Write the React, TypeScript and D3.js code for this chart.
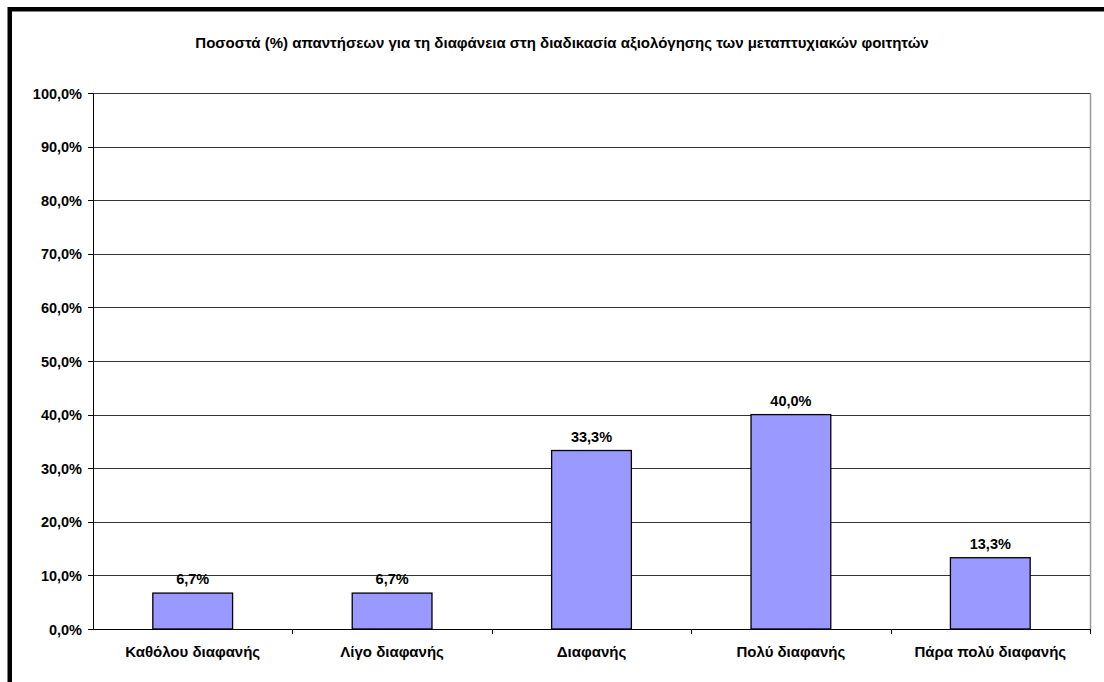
import React from "react";
import * as d3 from "d3";

const title = "Ποσοστά (%) απαντήσεων για τη διαφάνεια στη διαδικασία αξιολόγησης των μεταπτυχιακών φοιτητών";
const categories = ["Καθόλου διαφανής", "Λίγο διαφανής", "Διαφανής", "Πολύ διαφανής", "Πάρα πολύ διαφανής"];
const values = [6.7, 6.7, 33.3, 40.0, 13.3];
const yTicks = [0, 10, 20, 30, 40, 50, 60, 70, 80, 90, 100];

const fmt = (v: number) => v.toFixed(1).replace(".", ",") + "%";

export default function App() {
  const W = 1104, H = 682;
  const left = 93, right = 1090, top = 93, bottom = 629;
  const x = d3.scaleBand<string>().domain(categories).range([left, right]).paddingInner(0).paddingOuter(0);
  const y = d3.scaleLinear().domain([0, 100]).range([bottom, top]);
  const bw = x.bandwidth() * 0.4;
  const font = "'Liberation Sans', Arial, sans-serif";
  return (
    <svg width={W} height={H} style={{ position: "absolute", left: 0, top: 0, background: "#fff" }} fontFamily={font}>
      <rect x={0} y={0} width={W} height={H} fill="#fff" />
      <rect x={9.75} y={9.25} width={1200} height={800} fill="none" stroke="#000" strokeWidth={4.5} />
      <text x={562} y={48} textAnchor="middle" fontSize={15} fontWeight="bold">{title}</text>
      {/* plot area border right */}
      <line x1={right + 0.5} x2={right + 0.5} y1={top} y2={bottom} stroke="#999" strokeWidth={1.5} />
      {yTicks.map((t) => (
        <g key={t}>
          {t > 0 && <line x1={left} x2={right} y1={Math.round(y(t)) + 0.5} y2={Math.round(y(t)) + 0.5} stroke="#333" strokeWidth={1} />}
          <line x1={left - 5} x2={left} y1={Math.round(y(t)) + 0.5} y2={Math.round(y(t)) + 0.5} stroke="#000" />
          <text x={82} y={y(t) + 5.5} textAnchor="end" fontSize={14.5} fontWeight="bold">{fmt(t)}</text>
        </g>
      ))}
      {categories.map((c, i) => {
        const cx = (x(c) as number) + x.bandwidth() / 2;
        return (
          <g key={c}>
            <rect x={cx - bw / 2} y={y(values[i])} width={bw} height={y(0) - y(values[i])} fill="#9999FF" stroke="#000" strokeWidth={1.3} />
            <text x={cx} y={y(values[i]) - 9} textAnchor="middle" fontSize={14.5} fontWeight="bold">{fmt(values[i])}</text>
            <text x={cx} y={657} textAnchor="middle" fontSize={15} fontWeight="bold">{c}</text>
          </g>
        );
      })}
      {categories.map((c, i) => {
        const xx = Math.round((x(c) as number) + x.bandwidth()) + 0.5;
        return <line key={"t" + i} x1={xx} x2={xx} y1={bottom} y2={bottom + 5} stroke="#000" />;
      })}
      <line x1={left + 0.5} x2={left + 0.5} y1={top} y2={bottom} stroke="#000" />
      <line x1={left} x2={right} y1={bottom + 0.5} y2={bottom + 0.5} stroke="#000" />
    </svg>
  );
}
